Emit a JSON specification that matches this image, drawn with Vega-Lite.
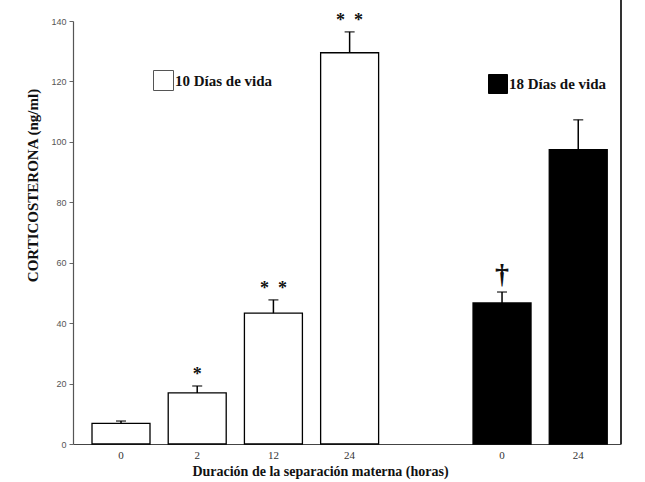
{
  "$schema": "https://vega.github.io/schema/vega-lite/v6.json",
  "width": 548,
  "height": 423,
  "autosize": "none",
  "padding": {"left": 73, "top": 21, "right": 24, "bottom": 38},
  "background": "white",
  "config": {"view": {"stroke": null}},
  "data": {
    "values": [
      {"key": "10-0", "group": "10 Días de vida", "hours": "0", "mean": 6.85, "upper": 7.6, "sig": ""},
      {"key": "10-2", "group": "10 Días de vida", "hours": "2", "mean": 16.9, "upper": 19.2, "sig": "*"},
      {"key": "10-12", "group": "10 Días de vida", "hours": "12", "mean": 43.3, "upper": 47.7, "sig": "*\u00a0\u00a0*"},
      {"key": "10-24", "group": "10 Días de vida", "hours": "24", "mean": 129.5, "upper": 136.4, "sig": "*\u00a0\u00a0*"},
      {"key": "18-0", "group": "18 Días de vida", "hours": "0", "mean": 46.7, "upper": 50.3, "sig": "†"},
      {"key": "18-24", "group": "18 Días de vida", "hours": "24", "mean": 97.4, "upper": 107.3, "sig": ""}
    ]
  },
  "encoding": {
    "x": {
      "field": "key",
      "type": "nominal",
      "scale": {
        "domain": ["10-0", "10-2", "10-12", "10-24", "gap", "18-0", "18-24"],
        "paddingInner": 0.239,
        "paddingOuter": 0.215,
        "align": 0.58
      },
      "axis": {
        "labelExpr": "datum.value == 'gap' ? '' : split(datum.value, '-')[1]",
        "labelAngle": 0,
        "ticks": false,
        "labelPadding": 5,
        "labelFont": "Liberation Serif",
        "labelFontSize": 11,
        "labelColor": "#333",
        "domainColor": "#444",
        "domainWidth": 1.2,
        "title": "Duración de la separación materna (horas)",
        "titleFont": "Liberation Serif",
        "titleFontWeight": "bold",
        "titleFontSize": 14,
        "titleColor": "#111",
        "titleX": 247,
        "titleY": 31,
        "titleBaseline": "alphabetic"
      }
    }
  },
  "layer": [
    {
      "transform": [{"filter": "datum.group == '10 Días de vida'"}],
      "mark": {"type": "bar", "stroke": "black", "strokeWidth": 1.3},
      "encoding": {
        "y": {
          "field": "mean",
          "type": "quantitative",
          "scale": {"domain": [0, 140], "nice": false, "zero": true},
          "axis": {
            "values": [0, 20, 40, 60, 80, 100, 120, 140],
            "grid": false,
            "tickSize": 4,
            "tickColor": "#666",
            "domainColor": "#555",
            "domainWidth": 1.2,
            "labelColor": "#555",
            "labelFont": "Liberation Sans",
            "labelFontSize": 9,
            "labelPadding": 3,
            "title": "CORTICOSTERONA  (ng/ml)",
            "titleFont": "Liberation Serif",
            "titleFontWeight": "bold",
            "titleFontSize": 15,
            "titleColor": "#111",
            "titleAngle": -90,
            "titleX": -41,
            "titleY": 164,
            "titleBaseline": "middle",
            "titleAlign": "center"
          }
        },
        "fill": {
          "field": "group",
          "type": "nominal",
          "scale": {"domain": ["10 Días de vida"], "range": ["white"]},
          "legend": {
            "orient": "none",
            "legendX": 80,
            "legendY": 49,
            "title": null,
            "padding": 0,
            "symbolType": "square",
            "symbolSize": 400,
            "symbolStrokeColor": "#555",
            "symbolStrokeWidth": 1,
            "labelFont": "Liberation Serif",
            "labelFontWeight": "bold",
            "labelFontSize": 15,
            "labelColor": "#111",
            "labelOffset": 1
          }
        }
      }
    },
    {
      "transform": [{"filter": "datum.group == '18 Días de vida'"}],
      "mark": {"type": "bar", "stroke": "black", "strokeWidth": 1.3},
      "encoding": {
        "y": {"field": "mean", "type": "quantitative"},
        "fill": {
          "field": "group",
          "type": "nominal",
          "scale": {"domain": ["18 Días de vida"], "range": ["black"]},
          "legend": {
            "orient": "none",
            "legendX": 415,
            "legendY": 53,
            "title": null,
            "padding": 0,
            "symbolType": "square",
            "symbolSize": 361,
            "symbolStrokeColor": "black",
            "symbolStrokeWidth": 1,
            "labelFont": "Liberation Serif",
            "labelFontWeight": "bold",
            "labelFontSize": 15,
            "labelColor": "#111",
            "labelOffset": 1
          }
        }
      }
    },
    {
      "mark": {"type": "rule", "color": "black", "strokeWidth": 1.5},
      "encoding": {
        "y": {"field": "mean", "type": "quantitative"},
        "y2": {"field": "upper"}
      }
    },
    {
      "mark": {"type": "tick", "color": "black", "thickness": 1.5, "size": 10},
      "encoding": {
        "y": {"field": "upper", "type": "quantitative"}
      }
    },
    {
      "transform": [{"filter": "datum.sig != '' && datum.sig != '†'"}],
      "mark": {"type": "text", "font": "Liberation Serif", "fontWeight": "bold", "fontSize": 18, "baseline": "alphabetic", "dy": -6, "color": "#111"},
      "encoding": {
        "y": {"field": "upper", "type": "quantitative"},
        "text": {"field": "sig"}
      }
    },
    {
      "transform": [{"filter": "datum.sig == '†'"}],
      "mark": {"type": "text", "font": "Liberation Serif", "fontWeight": "bold", "fontSize": 28, "baseline": "alphabetic", "dy": -9, "color": "#111"},
      "encoding": {
        "y": {"field": "upper", "type": "quantitative"},
        "text": {"field": "sig"}
      }
    },
    {
      "mark": {"type": "rule", "color": "#333", "strokeWidth": 1.3},
      "encoding": {
        "x": {"value": "width"},
        "y": {"value": -21},
        "y2": {"value": "height"}
      }
    }
  ],
  "resolve": {"scale": {"fill": "independent"}, "legend": {"fill": "independent"}}
}
